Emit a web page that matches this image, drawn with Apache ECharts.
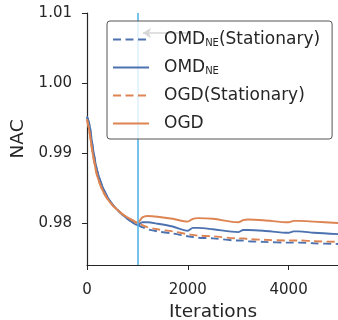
<!DOCTYPE html>
<html><head><meta charset="utf-8">
<script src="https://cdn.jsdelivr.net/npm/echarts@6/dist/echarts.min.js"></script>
<style>html,body{margin:0;padding:0;background:#fff}#c{width:338px;height:320px}</style>
</head><body><div id="c"></div>
<script>
const iterations = [0,50,100,150,200,300,400,500,600,700,800,900,1000,1100,1200,1400,1700,2000,2100,2200,2500,3000,3100,3200,3500,4000,4100,4200,4500,5000];
const omdNE =      [0.9952,0.9940,0.9915,0.9893,0.9875,0.9853,0.9838,0.9827,0.9819,0.9812,0.9806,0.9801,0.9797,0.9801,0.9801,0.9799,0.9795,0.9789,0.9793,0.9793,0.9791,0.9787,0.9790,0.9790,0.9789,0.9786,0.9788,0.9788,0.9786,0.9784];
const ogd =        [0.9948,0.9930,0.9905,0.9885,0.9868,0.9848,0.9835,0.9826,0.9819,0.9813,0.9808,0.9804,0.9800,0.9808,0.9810,0.9809,0.9806,0.9802,0.9806,0.9807,0.9806,0.9801,0.9804,0.9805,0.9804,0.9801,0.9803,0.9803,0.9802,0.9800];
const omdNEStat =  [0.9952,0.9940,0.9915,0.9893,0.9875,0.9853,0.9838,0.9827,0.9819,0.9812,0.9806,0.9801,0.9797,0.9794,0.9791,0.9788,0.9785,0.9781,0.9780,0.9779,0.9778,0.9775,0.9775,0.9774,0.9773,0.9772,0.9772,0.9772,0.9771,0.9770];
const ogdStat =    [0.9948,0.9930,0.9905,0.9885,0.9868,0.9848,0.9835,0.9826,0.9819,0.9813,0.9808,0.9804,0.9800,0.9797,0.9794,0.9791,0.9788,0.9784,0.9783,0.9782,0.9781,0.9778,0.9778,0.9777,0.9776,0.9775,0.9775,0.9775,0.9774,0.9773];
const yTicks = [0.98, 0.99, 1.00, 1.01];
const xTicks = [0, 2000, 4000];
const changePoint = 1000;
const arrowFrom = [2045, 1.00714];
const arrowTo = [1110, 1.00714];

const BLUE = '#4c72b0', ORANGE = '#dd8452';
const pairs = a => iterations.map((x,i)=>[x,a[i]]);
const font = 'DejaVu Sans';
const rich = {
  sp:{width:10, fontSize:17},
  sub:{fontSize:10, fontFamily:font, color:'#262626', padding:[8,0,0,0]},
  n:{fontSize:17, fontFamily:font, color:'#262626'}
};
const names = {
  'OMD_NE(Stationary)': '{sp|}{n|OMD}{sub|NE}{n|(Stationary)}',
  'OMD_NE': '{sp|}{n|OMD}{sub|NE}',
  'OGD(Stationary)': '{sp|}{n|OGD(Stationary)}',
  'OGD': '{sp|}{n|OGD}'
};
function line(name, data, color, dashed, extra){
  return Object.assign({
    name, type:'line', data:pairs(data), symbol:'none', smooth:0.3, z:2,
    lineStyle:{color, width:1.9, type: dashed ? [8,4.5] : 'solid'},
    itemStyle:{color}
  }, extra||{});
}
const chart = echarts.init(document.getElementById('c'), null, {renderer:'canvas'});
chart.setOption({
  animation:false,
  backgroundColor:'#fff',
  grid:{left:87, right:-1, top:13, bottom:55, containLabel:false, outerBoundsMode:'none'},
  xAxis:{type:'value', min:0, max:5000,
    name:'Iterations', nameLocation:'middle', nameGap:38,
    nameTextStyle:{fontFamily:font, fontSize:18.5, color:'#262626'},
    axisLine:{show:true, onZero:false, lineStyle:{color:'#262626', width:1.2}},
    axisTick:{show:true, length:5, customValues:xTicks, lineStyle:{color:'#262626'}},
    axisLabel:{customValues:xTicks, fontFamily:font, fontSize:15, color:'#262626', margin:18,
      formatter:v=>String(v)},
    splitLine:{show:false}},
  yAxis:{type:'value', min:0.974, max:1.01,
    name:'NAC', nameLocation:'middle', nameGap:58, nameRotate:90,
    nameTextStyle:{fontFamily:font, fontSize:18.5, color:'#262626'},
    axisLine:{show:true, onZero:false, lineStyle:{color:'#262626', width:1.2}},
    axisTick:{show:true, length:5, customValues:yTicks, lineStyle:{color:'#262626'}},
    axisLabel:{customValues:yTicks, fontFamily:font, fontSize:15, color:'#262626', margin:15,
      formatter:v=>v.toFixed(2)},
    splitLine:{show:false}},
  legend:{left:107, top:21, orient:'vertical', itemWidth:36, itemHeight:14, itemGap:9,
    padding:[9,12,6,5], z:10,
    backgroundColor:'rgba(255,255,255,0.8)', borderColor:'#555', borderWidth:1, borderRadius:3,
    itemStyle:{opacity:0},
    data:['OMD_NE(Stationary)','OMD_NE','OGD(Stationary)','OGD'],
    formatter:n=>names[n],
    textStyle:{fontFamily:font, fontSize:17, color:'#262626', rich, lineHeight:19}},
  series:[
    line('OMD_NE(Stationary)', omdNEStat, BLUE, true, {
      markLine:{silent:true, symbol:['none','arrow'], symbolSize:[8,8],
        lineStyle:{color:'#333', width:1.5, type:'solid'}, label:{show:false},
        data:[[{coord:arrowFrom},{coord:arrowTo}]]}
    }),
    line('OMD_NE', omdNE, BLUE, false, {
      markLine:{silent:true, symbol:['none','none'], lineStyle:{color:'#56b4e9', width:1.6, type:'solid'},
        label:{show:false}, data:[{xAxis:changePoint}]}
    }),
    line('OGD(Stationary)', ogdStat, ORANGE, true),
    line('OGD', ogd, ORANGE, false)
  ]
});
</script></body></html>
